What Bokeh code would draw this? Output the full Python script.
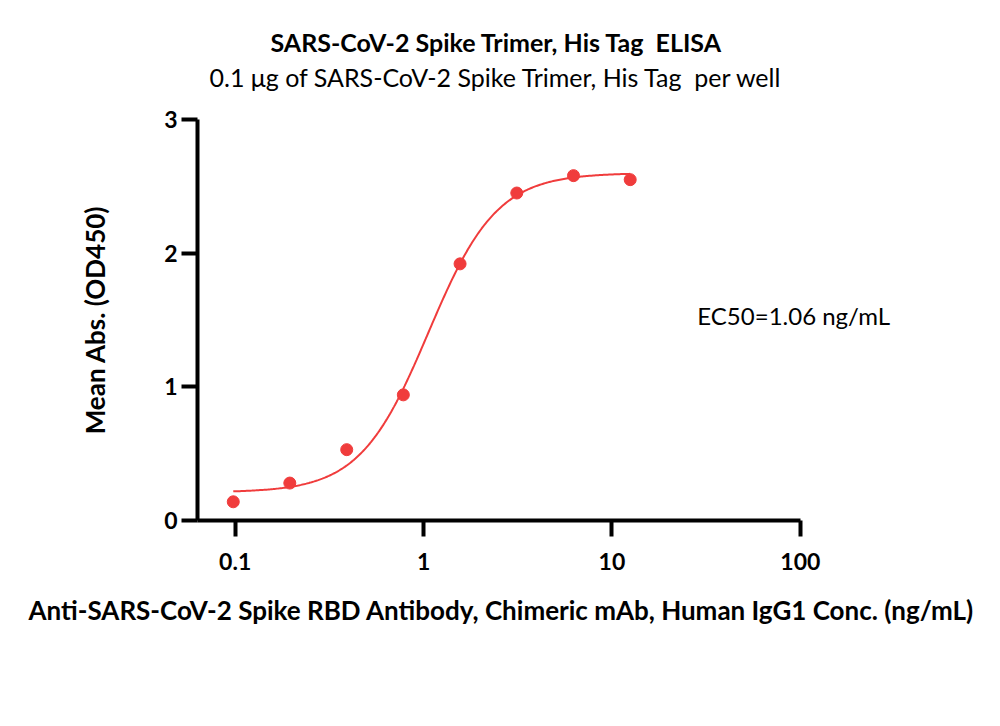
import numpy as np
from bokeh.plotting import figure
from bokeh.models import FixedTicker, Title, Label
from bokeh.embed import file_html
from bokeh.resources import INLINE

# ---- data ----
conc = [0.0977, 0.195, 0.391, 0.781, 1.5625, 3.125, 6.25, 12.5]
absorb = [0.14, 0.28, 0.53, 0.94, 1.92, 2.45, 2.58, 2.55]
# 4PL fit parameters
fit_bottom = 0.21
fit_top = 2.60
fit_ec50 = 1.06
fit_hill = 2.39
x_ticks = [0.1, 1, 10, 100]
x_tick_labels = ["0.1", "1", "10", "100"]
y_ticks = [0, 1, 2, 3]

NB = "\u00a0"
title_text = "SARS-CoV-2 Spike Trimer, His Tag" + NB + " ELISA"
subtitle_text = "0.1 \u03bcg of SARS-CoV-2 Spike Trimer, His Tag" + NB + " per well"
x_label = "Anti-SARS-CoV-2 Spike RBD Antibody, Chimeric mAb, Human IgG1 Conc. (ng/mL)"
y_label = "Mean Abs. (OD450)"
ec50_text = "EC50=1.06 ng/mL"

FONT = "Lato"
RED = "#F03C3C"

xs = np.logspace(np.log10(conc[0]), np.log10(conc[-1]), 300)
ys = fit_bottom + (fit_top - fit_bottom) / (1 + (fit_ec50 / xs) ** fit_hill)

X_LO, X_HI, X_AXIS_END = 0.0631, 361.6, 100

p = figure(width=984, height=700, x_axis_type="log",
           x_range=(X_LO, X_HI), y_range=(0, 3),
           output_backend="svg", toolbar_location=None,
           title=title_text,
           min_border_left=197, min_border_right=79,
           min_border_top=119, min_border_bottom=180)

p.title.text_font = FONT
p.title.text_font_size = "25px"
p.title.text_font_style = "bold"
p.title.align = "left"
p.title.offset = 73
p.title.standoff = 3
p.title.text_color = "#000000"
# empty spacer panel between the subtitle and the plot area (first added = nearest)
p.add_layout(Title(text=NB, text_font=FONT, text_font_size="10px",
                   align="left", standoff=12, text_color="#FFFFFF"), "above")
p.add_layout(Title(text=subtitle_text, text_font=FONT, text_font_size="25px",
                   text_font_style="normal", align="left", offset=12, standoff=3,
                   text_color="#000000"), "above")

p.line(xs, ys, line_color=RED, line_width=2)
p.scatter(conc, absorb, size=12, fill_color=RED, line_color=RED)

p.add_layout(Label(x=28.4, y=1.533, text=ec50_text, text_font=FONT,
                   text_font_size="24px", text_baseline="middle", text_color="#000000"))

p.xgrid.visible = False
p.ygrid.visible = False
p.outline_line_color = None

for ax in (p.xaxis[0], p.yaxis[0]):
    ax.axis_line_width = 4
    ax.axis_line_color = "#000000"
    ax.major_tick_line_width = 4
    ax.major_tick_line_color = "#000000"
    ax.major_tick_out = 16
    ax.major_tick_in = 0
    ax.minor_tick_line_color = None
    ax.major_label_text_font = FONT
    ax.major_label_text_font_style = "bold"
    ax.major_label_text_font_size = "23px"
    ax.major_label_text_color = "#000000"
    ax.axis_label_text_font = FONT
    ax.axis_label_text_font_style = "bold"
    ax.axis_label_text_font_size = "26px"
    ax.axis_label_text_color = "#000000"

p.xaxis.bounds = (X_LO, X_AXIS_END)
p.xaxis.ticker = FixedTicker(ticks=x_ticks)
p.xaxis.major_label_overrides = {t: l for t, l in zip(x_ticks, x_tick_labels)}
p.xaxis.major_label_standoff = 16

# x-axis title placed as a bottom title so it can be centred on the axis line
p.add_layout(Title(text=x_label, text_font=FONT, text_font_size="26px",
                   text_font_style="bold", align="left", offset=-169, standoff=38,
                   text_color="#000000"), "below")

p.yaxis.ticker = FixedTicker(ticks=y_ticks)
p.yaxis.major_label_standoff = 4
p.yaxis.axis_label = y_label
p.yaxis.axis_label_standoff = 50

open("out.html", "w").write(file_html(p, INLINE))
